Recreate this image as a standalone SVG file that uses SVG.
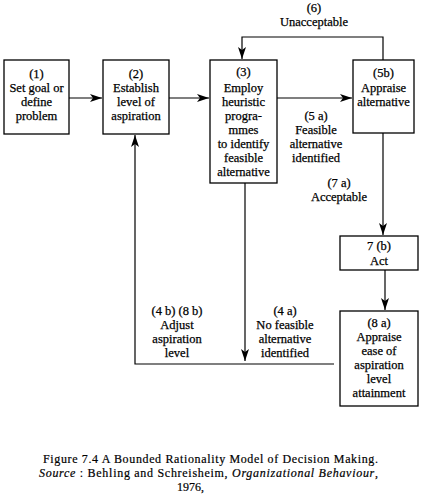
<svg xmlns="http://www.w3.org/2000/svg" width="422" height="498" viewBox="0 0 422 498">
<style>
.b{fill:#fff;stroke:#000;stroke-width:1.3}
.t{font-family:"Liberation Serif","Times New Roman",serif;font-size:12.5px;text-anchor:middle;fill:#000;stroke:#000;stroke-width:0.25}
.c{font-family:"Liberation Serif","Times New Roman",serif;font-size:12px;fill:#000;stroke:#000;stroke-width:0.2}
.l{fill:none;stroke:#000;stroke-width:1.2}
</style>
<defs>
<marker id="a" viewBox="0 0 12 8" refX="12" refY="4" markerWidth="12" markerHeight="8" markerUnits="userSpaceOnUse" orient="auto">
<path d="M0,0 L12,4 L0,8 L3,4 Z" fill="#000"/>
</marker>
</defs>
<rect width="422" height="498" fill="#fff"/>
<g id="connectors">
<line class="l" x1="69" y1="98" x2="102" y2="98" marker-end="url(#a)"/>
<line class="l" x1="169" y1="98" x2="209" y2="98" marker-end="url(#a)"/>
<line class="l" x1="277" y1="98" x2="352" y2="98" marker-end="url(#a)"/>
<polyline class="l" points="383,60 383,37 242,37 242,59" marker-end="url(#a)"/>
<line class="l" x1="383" y1="133" x2="383" y2="235" marker-end="url(#a)"/>
<line class="l" x1="385" y1="270" x2="385" y2="310" marker-end="url(#a)"/>
<line class="l" x1="245" y1="183" x2="245" y2="361" marker-end="url(#a)"/>
<polyline class="l" points="334,364 135,364 135,135" marker-end="url(#a)"/>
<text class="t"><tspan x="314" y="12">(6)</tspan><tspan x="314" y="26">Unacceptable</tspan></text>
<text class="t"><tspan x="316" y="120">(5 a)</tspan><tspan x="316" y="134">Feasible</tspan><tspan x="316" y="148">alternative</tspan><tspan x="316" y="162">identified</tspan></text>
<text class="t"><tspan x="339" y="187">(7 a)</tspan><tspan x="339" y="201">Acceptable</tspan></text>
<text class="t"><tspan x="285" y="315">(4 a)</tspan><tspan x="285" y="329">No feasible</tspan><tspan x="285" y="343">alternative</tspan><tspan x="285" y="357">identified</tspan></text>
<text class="t"><tspan x="177" y="315">(4 b) (8 b)</tspan><tspan x="177" y="329">Adjust</tspan><tspan x="177" y="343">aspiration</tspan><tspan x="177" y="357">level</tspan></text>
</g>
<g id="n1"><rect class="b" x="4" y="60" width="65" height="74"/>
<text class="t"><tspan x="36.5" y="78">(1)</tspan><tspan x="36.5" y="92">Set goal or</tspan><tspan x="36.5" y="106">define</tspan><tspan x="36.5" y="120">problem</tspan></text></g>
<g id="n2"><rect class="b" x="103" y="60" width="66" height="74"/>
<text class="t"><tspan x="136" y="78">(2)</tspan><tspan x="136" y="92">Establish</tspan><tspan x="136" y="106">level of</tspan><tspan x="136" y="120">aspiration</tspan></text></g>
<g id="n3"><rect class="b" x="210" y="60" width="67" height="123"/>
<text class="t"><tspan x="243.5" y="76">(3)</tspan><tspan x="243.5" y="92">Employ</tspan><tspan x="243.5" y="106">heuristic</tspan><tspan x="243.5" y="120">progra-</tspan><tspan x="243.5" y="134">mmes</tspan><tspan x="243.5" y="148">to identify</tspan><tspan x="243.5" y="162">feasible</tspan><tspan x="243.5" y="176">alternative</tspan></text></g>
<g id="n5b"><rect class="b" x="353" y="60" width="61" height="73"/>
<text class="t"><tspan x="383.5" y="77">(5b)</tspan><tspan x="383.5" y="92">Appraise</tspan><tspan x="383.5" y="106">alternative</tspan></text></g>
<g id="n7b"><rect class="b" x="340" y="236" width="78" height="34"/>
<text class="t"><tspan x="379" y="250">7 (b)</tspan><tspan x="379" y="265">Act</tspan></text></g>
<g id="n8a"><rect class="b" x="340" y="311" width="78" height="95"/>
<text class="t"><tspan x="379" y="327">(8 a)</tspan><tspan x="379" y="341">Appraise</tspan><tspan x="379" y="355">ease of</tspan><tspan x="379" y="369">aspiration</tspan><tspan x="379" y="383">level</tspan><tspan x="379" y="397">attainment</tspan></text></g>
<g id="caption">
<text class="c" x="43" y="463" textLength="335" lengthAdjust="spacing">Figure 7.4 A Bounded Rationality Model of Decision Making.</text>
<text class="c" x="39" y="477" textLength="339" lengthAdjust="spacing"><tspan font-style="italic">Source</tspan> : Behling and Schreisheim, <tspan font-style="italic">Organizational Behaviour</tspan>,</text>
<text class="c" x="177" y="491">1976,</text>
</g>
</svg>
